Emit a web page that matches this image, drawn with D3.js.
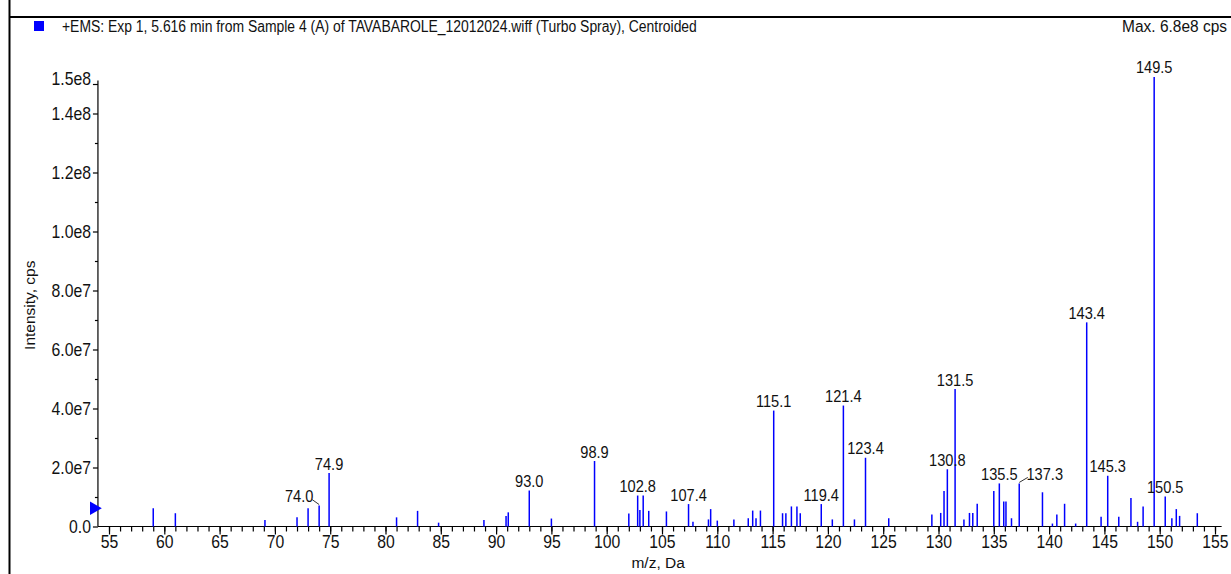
<!DOCTYPE html>
<html>
<head>
<meta charset="utf-8">
<script src="https://cdn.jsdelivr.net/npm/d3@7"></script>
<style>
  html, body { margin: 0; padding: 0; background: #fff; }
  svg { display: block; }
  text { font-family: "Liberation Sans", Arial, sans-serif; fill: #111; }
</style>
</head>
<body>
<svg id="chart" width="1231" height="574"></svg>
<script>
// Centroided mass spectrum: m/z (Da) and intensity (cps)
const mz = [
  59.0, 61.0, 69.1, 72.0, 73.0, 74.0, 74.9, 81.0, 82.9, 84.8,
  88.9, 90.9, 91.1, 93.0, 95.0, 98.9, 102.0, 102.8, 103.0, 103.3,
  103.8, 105.4, 107.4, 107.8, 109.2, 109.4, 110.0, 111.5, 112.8, 113.2,
  113.5, 113.9, 115.1, 115.9, 116.2, 116.7, 117.2, 117.5, 119.4, 120.4,
  121.4, 122.4, 123.4, 125.5, 129.4, 130.2, 130.5, 130.8, 131.5, 132.3,
  132.8, 133.1, 133.5, 135.0, 135.5, 135.9, 136.1, 136.6, 137.3, 139.4,
  140.3, 140.7, 141.4, 142.4, 143.4, 144.7, 145.3, 146.3, 147.4, 148.0,
  148.5, 149.5, 150.5, 151.1, 151.5, 151.8, 153.4
];
const intensity = [
  6.2e6, 4.5e6, 2.2e6, 3.1e6, 6.2e6, 7.1e6, 1.81e7, 3.1e6, 5.3e6, 1.3e6,
  2.2e6, 3.6e6, 4.8e6, 1.22e7, 2.7e6, 2.22e7, 4.4e6, 1.05e7, 5.6e6, 1.05e7,
  5.3e6, 5.1e6, 7.6e6, 1.6e6, 2.4e6, 5.9e6, 2.0e6, 2.4e6, 2.8e6, 5.4e6,
  2.8e6, 5.4e6, 3.93e7, 4.5e6, 4.5e6, 6.8e6, 6.8e6, 4.5e6, 7.6e6, 2.4e6,
  4.10e7, 2.4e6, 2.33e7, 2.8e6, 4.1e6, 4.6e6, 1.2e7, 1.94e7, 4.66e7, 2.4e6,
  4.6e6, 4.6e6, 7.7e6, 1.2e7, 1.46e7, 8.5e6, 8.5e6, 2.8e6, 1.46e7, 1.16e7,
  1.0e6, 4.1e6, 7.7e6, 1.0e6, 6.92e7, 3.3e6, 1.72e7, 3.3e6, 9.7e6, 1.6e6,
  6.8e6, 1.524e8, 1.02e7, 2.8e6, 5.9e6, 3.6e6, 4.5e6
];
// Peaks annotated with their m/z
const labeledMz = [74.0, 74.9, 93.0, 98.9, 102.8, 107.4, 115.1, 119.4, 121.4,
  123.4, 130.8, 131.5, 135.5, 137.3, 143.4, 145.3, 149.5, 150.5];

const xTickLabels = [55, 60, 65, 70, 75, 80, 85, 90, 95, 100, 105, 110, 115,
  120, 125, 130, 135, 140, 145, 150, 155];
const yTickValues = [0, 2e7, 4e7, 6e7, 8e7, 1e8, 1.2e8, 1.4e8, 1.5e8];
const yTickLabels = ["0.0", "2.0e7", "4.0e7", "6.0e7", "8.0e7", "1.0e8", "1.2e8", "1.4e8", "1.5e8"];

const headerText = "+EMS: Exp 1, 5.616 min from Sample 4 (A) of TAVABAROLE_12012024.wiff (Turbo Spray), Centroided";
const maxText = "Max. 6.8e8 cps";
const xTitle = "m/z, Da";
const yTitle = "Intensity, cps";

const peaks = mz.map((m, i) => ({ mz: m, value: intensity[i] }));

const svg = d3.select("#chart");

// Narrow-face look: squeeze text horizontally about its own anchor x
function condense(sel, sx) {
  sel.each(function () {
    const t = d3.select(this);
    const x0 = +t.attr("x") || 0;
    t.attr("transform", `translate(${x0},0) scale(${sx},1) translate(${-x0},0)`);
  });
}

// Panel frame
svg.append("line").attr("x1", 9.5).attr("x2", 9.5).attr("y1", 0).attr("y2", 574)
  .attr("stroke", "#000").attr("stroke-width", 2);
svg.append("line").attr("x1", 9).attr("x2", 1231).attr("y1", 17).attr("y2", 17)
  .attr("stroke", "#000").attr("stroke-width", 2);

// Header
svg.append("rect").attr("x", 34).attr("y", 21).attr("width", 10).attr("height", 10)
  .attr("fill", "#0000ff");
svg.append("text").attr("x", 62).attr("y", 32).attr("font-size", 16).text(headerText)
  .call(condense, 0.87);
svg.append("text").attr("x", 1227).attr("y", 32).attr("font-size", 17)
  .attr("text-anchor", "end").text(maxText).call(condense, 0.91);

// Scales
const x = d3.scaleLinear().domain([55, 155]).range([109, 1215]);
const y = d3.scaleLinear().domain([0, 1.5e8]).range([526.5, 84]);
const xMin = 54, xMax = 155.6, yTop = 1.512e8;

// Axis lines
svg.append("line").attr("x1", x(xMin)).attr("x2", x(xMax)).attr("y1", y(0)).attr("y2", y(0))
  .attr("stroke", "#000").attr("stroke-width", 1.2);
svg.append("line").attr("x1", x(xMin)).attr("x2", x(xMin)).attr("y1", y(0)).attr("y2", y(yTop))
  .attr("stroke", "#000").attr("stroke-width", 1.2);

// X axis: minor ticks every 1 Da, major ticks every 5 Da
const xAxisMinor = d3.axisBottom(x).tickValues(d3.range(55, 156, 1)).tickSize(5).tickFormat("");
const xAxisMajor = d3.axisBottom(x).tickValues(xTickLabels).tickSize(8).tickPadding(4)
  .tickFormat(d3.format("d"));
svg.append("g").attr("transform", `translate(0,${y(0)})`).call(xAxisMinor)
  .call(g => g.select(".domain").remove())
  .selectAll("line").attr("stroke", "#000").attr("stroke-width", 1.2);
const gx = svg.append("g").attr("transform", `translate(0,${y(0)})`).call(xAxisMajor);
gx.select(".domain").remove();
gx.selectAll("line").attr("stroke", "#000").attr("stroke-width", 1.2);
gx.selectAll("text").attr("font-size", 17.5).attr("font-family", null).attr("fill", null)
  .attr("dy", "0.71em").attr("y", 9).call(condense, 0.9);

// Y axis: labeled ticks plus minor ticks between them
const yMinorVals = d3.range(1e7, 1.4e8, 2e7);
const yAxisMinor = d3.axisLeft(y).tickValues(yMinorVals).tickSize(3).tickFormat("");
const yAxisMajor = d3.axisLeft(y).tickValues(yTickValues).tickSize(5).tickPadding(2)
  .tickFormat((d, i) => yTickLabels[i]);
svg.append("g").attr("transform", `translate(${x(xMin)},0)`).call(yAxisMinor)
  .call(g => g.select(".domain").remove())
  .selectAll("line").attr("stroke", "#000").attr("stroke-width", 1.2);
const gy = svg.append("g").attr("transform", `translate(${x(xMin)},0)`).call(yAxisMajor);
gy.select(".domain").remove();
gy.selectAll("line").attr("stroke", "#000").attr("stroke-width", 1.2);
gy.selectAll("text").attr("font-size", 17.5).attr("font-family", null).attr("fill", null)
  .call(condense, 0.9);
gy.selectAll(".tick").filter(d => d === 1.5e8).select("text").attr("dy", "0.05em");

// Threshold marker
svg.append("path")
  .attr("d", d3.symbol().type(d3.symbolTriangle).size(80))
  .attr("transform", `translate(${x(xMin) - 4},${y(6.2e6)}) rotate(90)`)
  .attr("fill", "#0000ff");

// Axis titles
svg.append("text").attr("x", x(104.65)).attr("y", 568).attr("text-anchor", "middle")
  .attr("font-size", 15.5).text(xTitle);
svg.append("text").attr("transform", `translate(35,${y(7.5e7)}) rotate(-90)`)
  .attr("text-anchor", "middle").attr("font-size", 15.5).text(yTitle);

// Centroid sticks
svg.append("g").selectAll("line").data(peaks).join("line")
  .attr("x1", d => x(d.mz)).attr("x2", d => x(d.mz))
  .attr("y1", y(0)).attr("y2", d => y(d.value))
  .attr("stroke", "#0000ff").attr("stroke-width", 1.5);

// Peak annotations; two labels are offset sideways with a leader line
const labelShift = { 74.0: -20, 137.3: 25.5 };
const labeled = peaks.filter(p => labeledMz.includes(p.mz));
const lab = svg.append("g");
labeled.forEach(p => {
  const px = x(p.mz), py = y(p.value);
  const dx = labelShift[p.mz] || 0;
  lab.append("text").attr("x", px + dx).attr("y", py - 3.5)
    .attr("text-anchor", "middle").attr("font-size", 17)
    .text(d3.format(".1f")(p.mz)).call(condense, 0.86);
  if (dx !== 0) {
    const sx = dx < 0 ? px + dx + 13 : px + dx - 17;
    lab.append("line").attr("x1", px).attr("y1", py - 1)
      .attr("x2", sx).attr("y2", py - 6)
      .attr("stroke", "#333").attr("stroke-width", 1);
  }
});
</script>
</body>
</html>
